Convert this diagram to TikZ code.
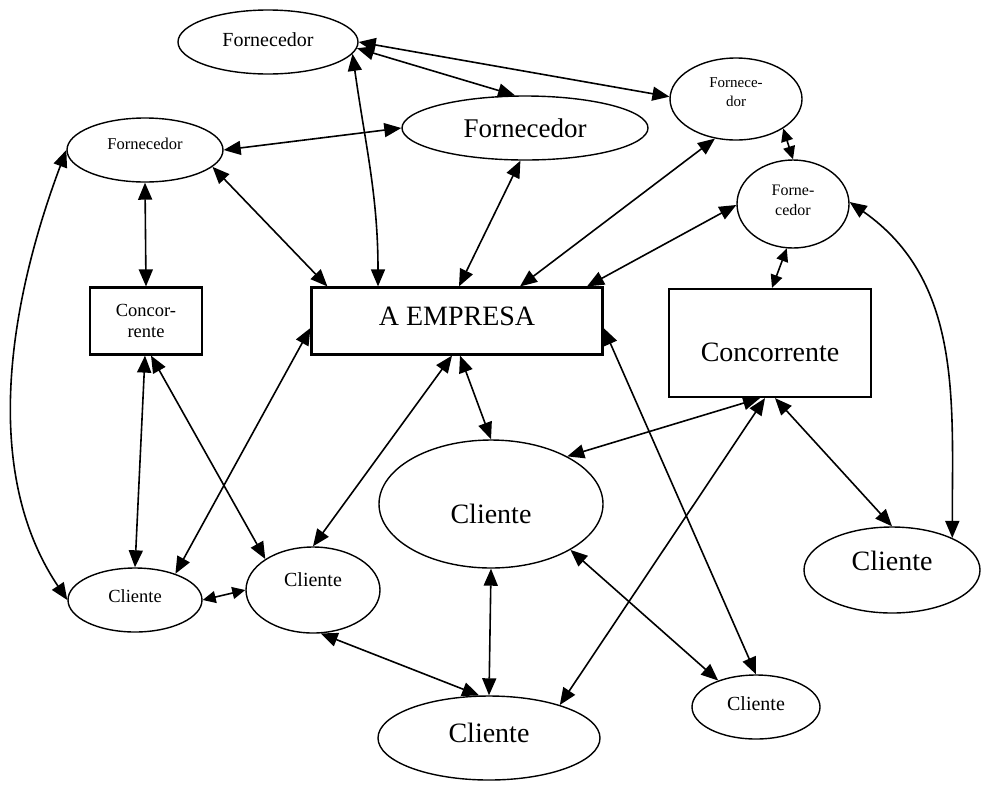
\documentclass[tikz,border=0pt]{standalone}
\usepackage{fontspec}
\setmainfont{Liberation Serif}
\usetikzlibrary{shapes.geometric,arrows.meta}
\newcommand\fsz[2]{\fontsize{#1}{#2}\selectfont}
\begin{document}
\begin{tikzpicture}[x=1pt,y=-1pt,
  ell/.style={draw,ellipse,line width=1.4pt,inner sep=0pt},
  box/.style={draw,rectangle,line width=2.2pt,inner sep=0pt},
  lnk/.style={line width=1.6pt,{Triangle[length=17pt,width=14pt]}-{Triangle[length=17pt,width=14pt]}},
  slnk/.style={line width=1.6pt,{Triangle[length=13pt,width=12pt]}-{Triangle[length=13pt,width=12pt]}},
  txt/.style={align=center,inner sep=0pt}
]
\useasboundingbox (0,0) rectangle (981,796);

% Fornecedores
\node[ell,minimum width=180pt,minimum height=64pt,
  label={[txt,name=f1t,font=\fsz{20}{24},yshift=2pt]center:Fornecedor}] (f1) at (268,42) {};
\node[ell,minimum width=246pt,minimum height=64pt,
  label={[txt,name=f2t,font=\fsz{27}{32}]center:Fornecedor}] (f2) at (525,128) {};
\node[ell,minimum width=132pt,minimum height=82pt,
  label={[txt,name=f3t,font=\fsz{15}{19},yshift=7pt]center:Fornece-\\dor}] (f3) at (736,99) {};
\node[ell,minimum width=112pt,minimum height=88pt,
  label={[txt,name=f4t,font=\fsz{16}{20},yshift=4pt]center:Forne-\\cedor}] (f4) at (793,204) {};
\node[ell,minimum width=156pt,minimum height=64pt,
  label={[txt,name=f5t,font=\fsz{16.5}{20},yshift=6pt]center:Fornecedor}] (f5) at (145,150) {};

% Boxes
\node[box,minimum width=112pt,minimum height=67pt,
  label={[txt,name=cc1t,font=\fsz{18.5}{21}]center:Concor-\\rente}] (cc1) at (146,321) {};
\node[box,minimum width=291pt,minimum height=67pt,
  label={[txt,name=empt,font=\fsz{28}{32},yshift=5pt]center:A EMPRESA}] (emp) at (457,321) {};
\node[box,minimum width=202pt,minimum height=108pt,
  label={[txt,name=cc2t,font=\fsz{28}{32},yshift=-9pt]center:Concorrente}] (cc2) at (770,343) {};

% Clientes
\node[ell,minimum width=224pt,minimum height=128pt,
  label={[txt,name=c1t,font=\fsz{28}{32},yshift=-10pt]center:Cliente}] (c1) at (491,504) {};
\node[ell,minimum width=176pt,minimum height=86pt,
  label={[txt,name=c2t,font=\fsz{28}{32},yshift=9pt]center:Cliente}] (c2) at (892,570) {};
\node[ell,minimum width=134pt,minimum height=64pt,
  label={[txt,name=c3t,font=\fsz{18.5}{22},yshift=4pt]center:Cliente}] (c3) at (135,600) {};
\node[ell,minimum width=134pt,minimum height=86pt,
  label={[txt,name=c4t,font=\fsz{20}{24},yshift=10pt]center:Cliente}] (c4) at (313,590) {};
\node[ell,minimum width=222pt,minimum height=84pt,
  label={[txt,name=c5t,font=\fsz{28}{32},yshift=5pt]center:Cliente}] (c5) at (489,738) {};
\node[ell,minimum width=128pt,minimum height=64pt,
  label={[txt,name=c6t,font=\fsz{20}{24},yshift=3pt]center:Cliente}] (c6) at (756,707) {};

% Connectors
\draw[lnk] (f1.-4) -- (f2.107);
\draw[lnk] (f1.0) -- (f3.178);
\draw[lnk] (f1.-8) to[out=-82,in=90] ([xshift=-79pt]emp.north);
\draw[lnk] (f5.0) -- (f2.180);
\draw[lnk] (f5.-14) -- ([xshift=17pt]emp.north west);
\draw[lnk] (f5.south) -- (cc1.north);
\draw[lnk] (f5.180) .. controls (10,300) and (-20,470) .. (c3.180);
\draw[lnk] (f2.-98) -- ([xshift=2pt]emp.north);
\draw[lnk] (f3.242) -- ([xshift=63pt]emp.north);
\draw[slnk] (f3.-32) -- (f4.north);
\draw[lnk] (f4.181) -- ([xshift=130pt]emp.north);
\draw[slnk] (f4.-98) -- ([xshift=2pt]cc2.north);
\draw[lnk] (f4.2) to[out=-35,in=90] (c2.28);
\draw[lnk] ([xshift=-1pt]cc1.south) -- (c3.north);
\draw[lnk] ([xshift=5pt]cc1.south) -- (c4.147);
\draw[lnk] ([yshift=-7pt]emp.west) -- (c3.33);
\draw[lnk] ([xshift=-5pt]emp.south) -- (c4.north);
\draw[lnk] ([xshift=3pt]emp.south) -- (c1.north);
\draw[lnk] ([yshift=-7pt]emp.east) -- (c6.north);
\draw[lnk] ([xshift=-10pt]cc2.south) -- (c1.32);
\draw[lnk] ([xshift=-5pt]cc2.south) -- (c5.25);
\draw[lnk] ([xshift=5pt]cc2.south) -- (c2.north);
\draw[lnk] (c1.south) -- (c5.north);
\draw[lnk] (c1.-30) -- (c6.145);
\draw[slnk] (c3.0) -- (c4.180);
\draw[lnk] (c4.-80) -- (c5.103);
\end{tikzpicture}
\end{document}
